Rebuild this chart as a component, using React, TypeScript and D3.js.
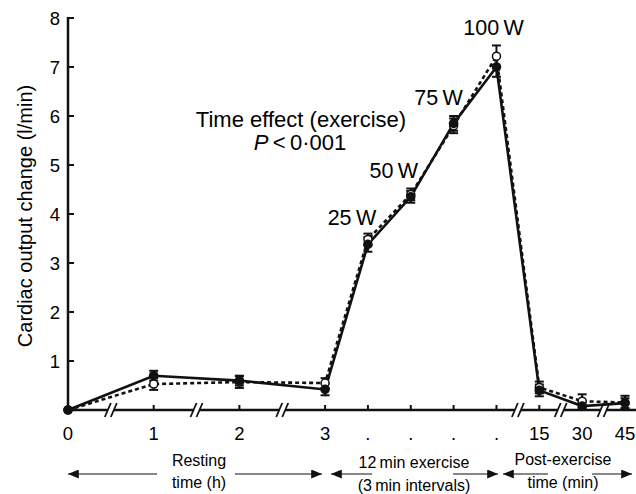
import React, { useEffect, useRef } from 'react';
import * as d3 from 'd3';

// x slots: each category sits on an evenly spaced slot (resting hours use every other slot)
const categories = ['0', '1', '2', '3', '.', '.', '.', '.', '15', '30', '45'];
const slots = [0, 2, 4, 6, 7, 8, 9, 10, 11, 12, 13];
const breakSlots = [1, 3, 5, 10.5, 11.5, 12.5];

const solidValues = [0, 0.7, 0.6, 0.42, 3.38, 4.35, 5.85, 7.0, 0.4, 0.08, 0.14];
const solidErrors = [0, 0.1, 0.1, 0.12, 0.15, 0.12, 0.15, 0.2, 0.12, 0.08, 0.1];
const dashedValues = [0, 0.53, 0.57, 0.55, 3.48, 4.4, 5.8, 7.22, 0.46, 0.18, 0.15];
const dashedErrors = [0, 0.12, 0.12, 0.1, 0.12, 0.12, 0.15, 0.22, 0.12, 0.14, 0.14];

const yTicks = [1, 2, 3, 4, 5, 6, 7, 8];
const powerLabels = ['25\u2009W', '50\u2009W', '75\u2009W', '100\u2009W'];
const powerIndex = [4, 5, 6, 7];

const App = () => {
  const svgRef = useRef<SVGSVGElement | null>(null);

  useEffect(() => {
    const width = 636;
    const svg = d3.select(svgRef.current);
    svg.selectAll('*').remove();

    const font = 'Liberation Sans, Arial, sans-serif';
    const x = d3.scaleLinear().domain([0, 13]).range([68, 625]);
    const y = d3.scaleLinear().domain([0, 8]).range([410, 18]);

    const defs = svg.append('defs');
    defs.append('marker')
      .attr('id', 'head')
      .attr('viewBox', '0 0 12 10')
      .attr('refX', 12).attr('refY', 5)
      .attr('markerWidth', 12).attr('markerHeight', 9)
      .attr('markerUnits', 'userSpaceOnUse')
      .attr('orient', 'auto')
      .append('path').attr('d', 'M0,0L12,5L0,10Z').attr('fill', '#111');

    const g = svg.append('g');

    // y axis
    g.append('line')
      .attr('x1', x(0)).attr('x2', x(0))
      .attr('y1', y(8) - 1).attr('y2', y(0))
      .attr('stroke', '#111').attr('stroke-width', 2.5);
    g.selectAll('.ytick').data(yTicks).join('line')
      .attr('x1', x(0)).attr('x2', x(0) + 6)
      .attr('y1', d => y(d)).attr('y2', d => y(d))
      .attr('stroke', '#111').attr('stroke-width', 2);
    g.selectAll('.ylab').data(yTicks).join('text')
      .attr('x', x(0) - 8).attr('y', d => y(d) + 7)
      .attr('text-anchor', 'end')
      .attr('font-family', font).attr('font-size', 18.5)
      .text(d => d);

    // x axis
    g.append('line')
      .attr('x1', x(0)).attr('x2', width)
      .attr('y1', y(0)).attr('y2', y(0))
      .attr('stroke', '#111').attr('stroke-width', 2.5);
    g.selectAll('.xtick').data(slots).join('line')
      .attr('x1', d => x(d)).attr('x2', d => x(d))
      .attr('y1', y(0)).attr('y2', y(0) - 5)
      .attr('stroke', '#111').attr('stroke-width', 2);
    g.selectAll('.xlab').data(categories).join('text')
      .attr('x', (d, i) => x(slots[i])).attr('y', 440)
      .attr('text-anchor', 'middle')
      .attr('font-family', font).attr('font-size', 18.5)
      .text(d => d);

    // axis breaks
    const br = g.selectAll('.brk').data(breakSlots).join('g')
      .attr('transform', d => `translate(${x(d)},${y(0)})`);
    br.append('rect').attr('x', -3).attr('y', -3).attr('width', 6).attr('height', 6).attr('fill', '#fff');
    [-3, 3].forEach(dx => {
      br.append('line')
        .attr('x1', dx - 3).attr('y1', 7).attr('x2', dx + 3).attr('y2', -7)
        .attr('stroke', '#111').attr('stroke-width', 1.8);
    });

    const line = d3.line<number>()
      .x((d, i) => x(slots[i]))
      .y(d => y(d));

    const drawSeries = (vals: number[], errs: number[], dashed: boolean) => {
      g.append('path')
        .datum(vals)
        .attr('d', line)
        .attr('fill', 'none')
        .attr('stroke', '#111')
        .attr('stroke-width', 2.6)
        .attr('stroke-dasharray', dashed ? '4,3' : null);
      vals.forEach((v, i) => {
        if (errs[i] <= 0) return;
        const cx = x(slots[i]);
        g.append('line')
          .attr('x1', cx).attr('x2', cx)
          .attr('y1', y(v + errs[i])).attr('y2', y(v - errs[i]))
          .attr('stroke', '#111').attr('stroke-width', 2);
        [v + errs[i], v - errs[i]].forEach(e => {
          g.append('line')
            .attr('x1', cx - 4.5).attr('x2', cx + 4.5)
            .attr('y1', y(e)).attr('y2', y(e))
            .attr('stroke', '#111').attr('stroke-width', 2);
        });
      });
    };

    drawSeries(dashedValues, dashedErrors, true);
    drawSeries(solidValues, solidErrors, false);

    g.selectAll('.open').data(dashedValues).join('circle')
      .attr('cx', (d, i) => x(slots[i])).attr('cy', d => y(d))
      .attr('r', 4).attr('fill', '#fff').attr('stroke', '#111').attr('stroke-width', 1.5);
    g.selectAll('.filled').data(solidValues).join('circle')
      .attr('cx', (d, i) => x(slots[i])).attr('cy', d => y(d))
      .attr('r', 4.8).attr('fill', '#111');

    // power annotations
    const powerOffsets = [[-16, -14], [-17, -16], [-15, -18], [-3, -21]];
    powerLabels.forEach((lab, k) => {
      const i = powerIndex[k];
      const top = Math.max(solidValues[i], dashedValues[i]);
      g.append('text')
        .attr('x', x(slots[i]) + powerOffsets[k][0])
        .attr('y', y(top) + powerOffsets[k][1])
        .attr('text-anchor', 'middle')
        .attr('font-family', font).attr('font-size', 21.5)
        .text(lab);
    });

    // statistics note
    g.append('text')
      .attr('x', 301).attr('y', 127)
      .attr('text-anchor', 'middle')
      .attr('font-family', font).attr('font-size', 22)
      .text('Time effect (exercise)');
    const p = g.append('text')
      .attr('x', 300).attr('y', 150)
      .attr('text-anchor', 'middle')
      .attr('font-family', font).attr('font-size', 22);
    p.append('tspan').attr('font-style', 'italic').text('P');
    p.append('tspan').text('\u2009<\u20090·001');

    // y label
    g.append('text')
      .attr('transform', `translate(32,216) rotate(-90)`)
      .attr('text-anchor', 'middle')
      .attr('font-family', font).attr('font-size', 20)
      .text('Cardiac output change (l/min)');

    // period arrows
    const periods = [
      { from: 68, to: 322, gapL: 157, gapR: 235, cx: 199, ty1: 466, ty2: 488, l1: 'Resting', l2: 'time (h)' },
      { from: 331, to: 498, gapL: 372, gapR: 453, cx: 414, ty1: 468, ty2: 491, l1: '12\u2009min exercise', l2: '(3\u2009min intervals)' },
      { from: 503, to: 632, gapL: 548, gapR: 592, cx: 563, ty1: 465, ty2: 488, l1: 'Post-exercise', l2: 'time (min)' }
    ];
    const ay = 474;
    periods.forEach(pd => {
      g.append('line')
        .attr('x1', pd.gapL).attr('x2', pd.from)
        .attr('y1', ay).attr('y2', ay)
        .attr('stroke', '#111').attr('stroke-width', 1.2)
        .attr('marker-end', 'url(#head)');
      g.append('line')
        .attr('x1', pd.gapR).attr('x2', pd.to)
        .attr('y1', ay).attr('y2', ay)
        .attr('stroke', '#111').attr('stroke-width', 1.2)
        .attr('marker-end', 'url(#head)');
      g.append('text')
        .attr('x', pd.cx).attr('y', pd.ty1)
        .attr('text-anchor', 'middle')
        .attr('font-family', font).attr('font-size', 16)
        .text(pd.l1);
      g.append('text')
        .attr('x', pd.cx).attr('y', pd.ty2)
        .attr('text-anchor', 'middle')
        .attr('font-family', font).attr('font-size', 16)
        .text(pd.l2);
    });
  }, []);

  return (
    <svg
      ref={svgRef}
      width={636}
      height={494}
      style={{ position: 'absolute', left: 0, top: 0, background: '#fff' }}
    />
  );
};

export default App;
